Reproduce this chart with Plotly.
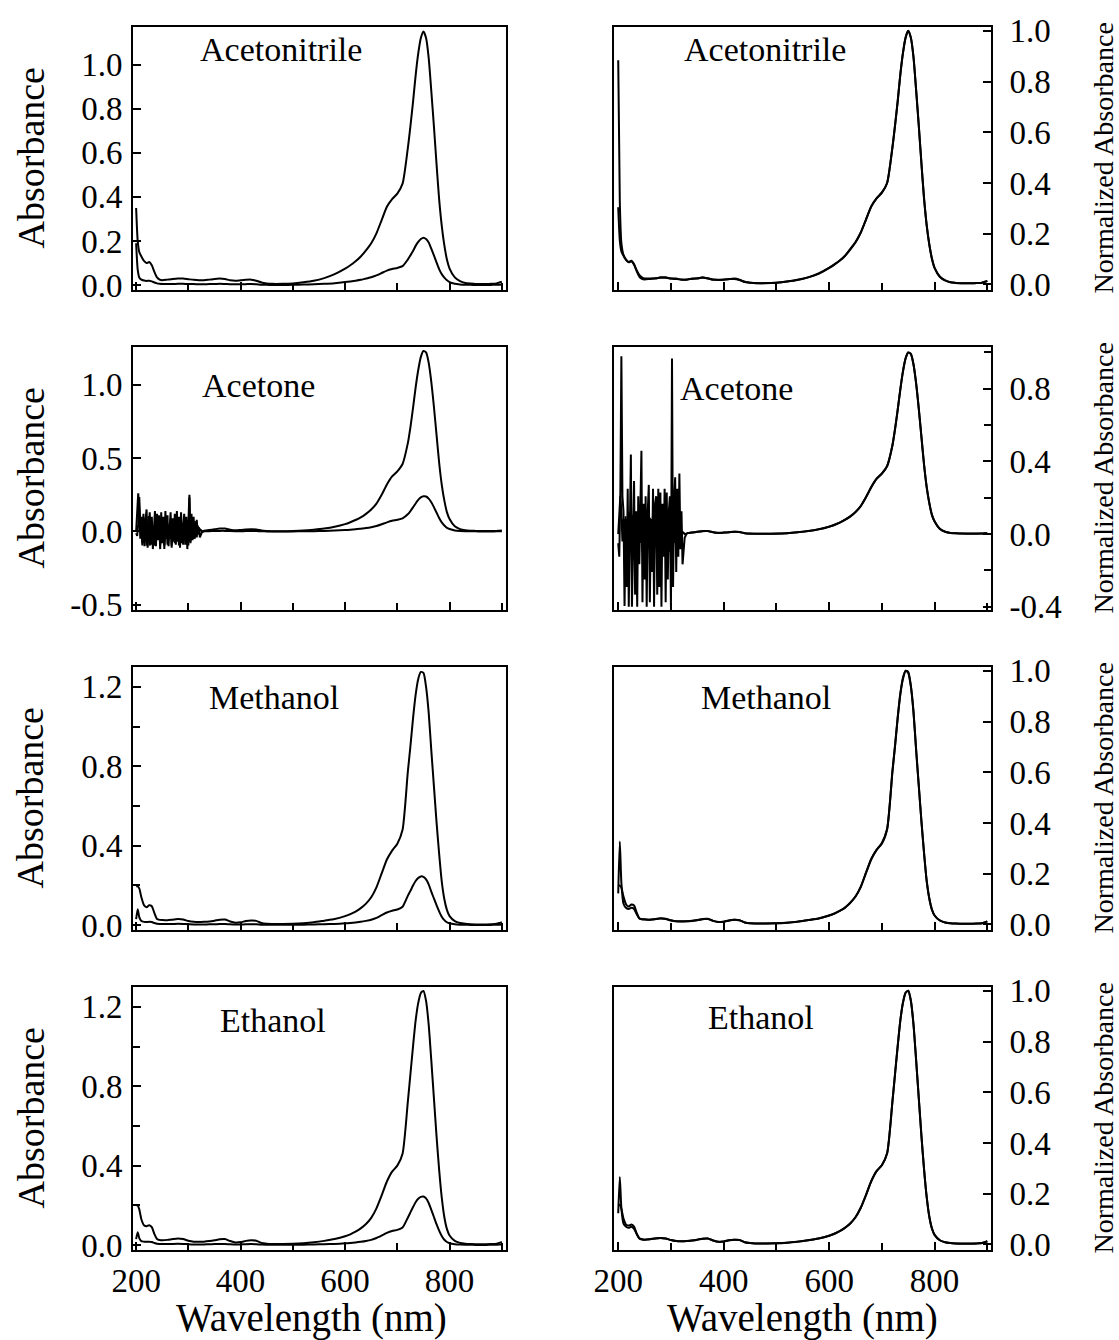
import plotly.graph_objects as go

W, H = 1119, 1340
FONT = "Liberation Serif, Times New Roman, serif"

# ---------------- data ----------------
WL = [200, 203, 206, 210, 215, 220, 225, 230, 235, 240,
      245, 250, 260, 270, 280, 290, 300, 310, 320, 330,
      340, 350, 360, 370, 380, 390, 400, 410, 420, 430,
      440, 450, 460, 480, 500, 520, 540, 560, 580, 600,
      610, 620, 630, 640, 650, 660, 670, 680, 690, 700,
      710, 720, 725, 730, 735, 740, 745, 750, 755, 760,
      765, 770, 775, 780, 785, 790, 795, 800, 810, 820,
      830, 840, 850, 860, 870, 880, 890, 895, 900]

ACN_HI = [0.35, 0.2, 0.15, 0.13, 0.11, 0.1, 0.105, 0.09, 0.06, 0.035,
          0.025, 0.022, 0.025, 0.028, 0.03, 0.03, 0.027, 0.024, 0.022, 0.022,
          0.025, 0.028, 0.03, 0.028, 0.022, 0.02, 0.022, 0.024, 0.025, 0.02,
          0.012, 0.008, 0.006, 0.006, 0.008, 0.013, 0.02, 0.032, 0.05, 0.075,
          0.09, 0.108, 0.13, 0.158, 0.19, 0.235, 0.295, 0.355, 0.39, 0.415,
          0.46, 0.62, 0.72, 0.83, 0.95, 1.05, 1.12, 1.15, 1.12, 1.03,
          0.88, 0.72, 0.55, 0.39, 0.27, 0.18, 0.115, 0.075, 0.035, 0.018,
          0.01, 0.007, 0.005, 0.005, 0.005, 0.006, 0.008, 0.012, 0.015]
ACN_LO = [0.19, 0.07, 0.035, 0.025, 0.021, 0.019, 0.02, 0.017, 0.012, 0.008,
          0.006, 0.005, 0.005, 0.005, 0.006, 0.006, 0.005, 0.005, 0.004, 0.004,
          0.005, 0.005, 0.006, 0.005, 0.004, 0.004, 0.004, 0.0045, 0.005, 0.004,
          0.002, 0.0015, 0.001, 0.001, 0.0015, 0.0025, 0.004, 0.006, 0.009, 0.014,
          0.017, 0.02, 0.024, 0.03, 0.036, 0.044, 0.055, 0.066, 0.073, 0.078,
          0.086, 0.116, 0.135, 0.155, 0.178, 0.196, 0.209, 0.215, 0.209, 0.193,
          0.165, 0.135, 0.103, 0.073, 0.05, 0.034, 0.022, 0.014, 0.0065, 0.0034,
          0.0019, 0.0013, 0.001, 0.001, 0.001, 0.0012, 0.0015, 0.0022, 0.003]

# acetone: noisy UV part (2 nm steps, 200-326 nm) + smooth part on WL from 330 nm
ACE_UV_WL = list(range(200, 328, 2))
ACE_HI_UV = [0.0, 0.12, 0.26, 0.15, -0.05, 0.1, -0.08, 0.12,
             -0.1, 0.08, 0.15, -0.11, 0.05, 0.13, -0.09, 0.1,
             -0.12, 0.06, 0.14, -0.1, 0.12, -0.06, 0.08, -0.12,
             0.13, -0.08, 0.1, -0.12, 0.14, -0.05, 0.11, -0.1,
             0.06, 0.13, -0.11, 0.09, -0.07, 0.12, -0.09, 0.14,
             -0.06, 0.1, -0.11, 0.13, -0.08, 0.07, 0.12, -0.09,
             0.1, -0.12, 0.08, 0.25, -0.08, 0.12, -0.06, 0.1,
             -0.05, 0.07, -0.04, 0.04, -0.02, 0.015, 0.01, 0.0]
ACE_LO_UV = [-0.012, -0.03, 0.05, 0.235, 0.05, 0.03, -0.095, 0.02,
             -0.07, 0.06, -0.096, 0.04, 0.105, -0.096, -0.02, 0.07,
             -0.08, 0.03, -0.096, 0.05, -0.04, 0.02, 0.11, -0.09,
             0.04, -0.06, 0.05, -0.096, 0.03, 0.065, -0.09, 0.02,
             -0.05, 0.06, -0.096, 0.04, 0.05, -0.08, 0.06, -0.07,
             0.055, -0.096, 0.04, -0.03, 0.06, -0.09, 0.055, -0.06,
             0.03, 0.05, -0.096, 0.232, -0.07, 0.04, 0.075, -0.05,
             0.06, -0.03, 0.08, -0.02, 0.03, -0.04, -0.015, -0.005]
ACE_VIS_WL = WL[19:]
ACE_HI_VIS = [0.005, 0.01, 0.015, 0.02, 0.02, 0.012, 0.008, 0.01, 0.013, 0.015,
              0.014, 0.006, 0.003, 0.002, 0.002, 0.003, 0.006, 0.012, 0.02, 0.032,
              0.05, 0.063, 0.078, 0.096, 0.12, 0.15, 0.19, 0.25, 0.32, 0.375,
              0.41, 0.46, 0.6, 0.71, 0.84, 0.98, 1.1, 1.19, 1.23, 1.22,
              1.15, 1.02, 0.85, 0.66, 0.47, 0.32, 0.21, 0.13, 0.085, 0.035,
              0.016, 0.008, 0.005, 0.004, 0.003, 0.003, 0.003, 0.004, 0.005, 0.006]
ACE_LO_VIS = [0.001, 0.002, 0.003, 0.004, 0.004, 0.0025, 0.0016, 0.002, 0.0025, 0.003,
              0.0027, 0.0012, 0.0006, 0.0004, 0.0004, 0.0006, 0.0012, 0.0023, 0.004, 0.0062,
              0.0098, 0.012, 0.015, 0.019, 0.023, 0.029, 0.037, 0.049, 0.062, 0.073,
              0.08, 0.09, 0.117, 0.139, 0.164, 0.191, 0.215, 0.232, 0.24, 0.238,
              0.224, 0.199, 0.166, 0.129, 0.092, 0.062, 0.041, 0.025, 0.017, 0.007,
              0.003, 0.0016, 0.001, 0.0008, 0.0006, 0.0006, 0.0006, 0.0008, 0.001, 0.0012]

MEOH_HI = [0.195, 0.195, 0.185, 0.14, 0.1, 0.09, 0.1, 0.095, 0.06, 0.03,
           0.026, 0.025, 0.024, 0.027, 0.03, 0.028, 0.02, 0.016, 0.015, 0.016,
           0.018, 0.022, 0.027, 0.028, 0.018, 0.012, 0.014, 0.02, 0.023, 0.021,
           0.01, 0.006, 0.005, 0.005, 0.006, 0.009, 0.014, 0.022, 0.03, 0.045,
           0.055, 0.068, 0.085, 0.108, 0.14, 0.19, 0.26, 0.33, 0.375, 0.41,
           0.48, 0.77, 0.9, 1.04, 1.16, 1.24, 1.275, 1.27, 1.2, 1.07,
           0.88, 0.7, 0.52, 0.36, 0.22, 0.13, 0.075, 0.045, 0.02, 0.01,
           0.006, 0.004, 0.003, 0.003, 0.003, 0.004, 0.006, 0.01, 0.015]
MEOH_LO = [0.03, 0.08, 0.04, 0.02, 0.016, 0.015, 0.016, 0.015, 0.01, 0.006,
           0.005, 0.005, 0.0046, 0.005, 0.006, 0.0053, 0.004, 0.003, 0.003, 0.003,
           0.0034, 0.004, 0.005, 0.0053, 0.0034, 0.0023, 0.0027, 0.0038, 0.0044, 0.004,
           0.0019, 0.0011, 0.001, 0.001, 0.0011, 0.0017, 0.0027, 0.0042, 0.0057, 0.0086,
           0.0105, 0.013, 0.016, 0.021, 0.027, 0.036, 0.05, 0.063, 0.072, 0.078,
           0.092, 0.147, 0.172, 0.199, 0.222, 0.237, 0.245, 0.243, 0.23, 0.205,
           0.168, 0.134, 0.1, 0.069, 0.042, 0.025, 0.014, 0.0086, 0.0038, 0.0019,
           0.0011, 0.0008, 0.0006, 0.0006, 0.0006, 0.0008, 0.0011, 0.0019, 0.0029]

ETOH_HI = [0.2, 0.2, 0.18, 0.13, 0.1, 0.095, 0.1, 0.09, 0.055, 0.03,
           0.025, 0.024, 0.026, 0.03, 0.033, 0.03, 0.022, 0.017, 0.016, 0.017,
           0.02, 0.024, 0.029, 0.03, 0.02, 0.013, 0.015, 0.021, 0.024, 0.022,
           0.011, 0.007, 0.005, 0.005, 0.006, 0.009, 0.014, 0.021, 0.03, 0.044,
           0.054, 0.067, 0.084, 0.106, 0.137, 0.185, 0.25, 0.32, 0.37, 0.4,
           0.46, 0.72, 0.86, 1.0, 1.13, 1.22, 1.27, 1.28, 1.23, 1.11,
           0.93, 0.74, 0.55, 0.38, 0.24, 0.14, 0.08, 0.048, 0.021, 0.011,
           0.007, 0.005, 0.004, 0.004, 0.004, 0.005, 0.007, 0.011, 0.016]
ETOH_LO = [0.03, 0.065, 0.035, 0.02, 0.017, 0.016, 0.017, 0.015, 0.01, 0.006,
           0.005, 0.0046, 0.005, 0.0057, 0.0063, 0.0057, 0.0042, 0.0032, 0.003, 0.0032,
           0.0038, 0.0046, 0.0055, 0.0057, 0.0038, 0.0025, 0.0029, 0.004, 0.0046, 0.0042,
           0.0021, 0.0013, 0.001, 0.001, 0.0011, 0.0017, 0.0027, 0.004, 0.0057, 0.0084,
           0.0103, 0.0128, 0.016, 0.0202, 0.0262, 0.0353, 0.0478, 0.061, 0.0707, 0.0764,
           0.0879, 0.1375, 0.1643, 0.191, 0.2158, 0.233, 0.2426, 0.2445, 0.235, 0.212,
           0.1776, 0.1413, 0.105, 0.0726, 0.0458, 0.0267, 0.0153, 0.0092, 0.004, 0.0021,
           0.0013, 0.001, 0.0008, 0.0008, 0.0008, 0.001, 0.0013, 0.0021, 0.0031]

SOLVENTS = ["Acetonitrile", "Acetone", "Methanol", "Ethanol"]
X_TICKS = [200, 400, 600, 800]
X_TICK_LABELS = ["200", "400", "600", "800"]
X_MINOR = [300, 500, 700, 900]

Y_TICKS_LEFT = [[0.0, 0.2, 0.4, 0.6, 0.8, 1.0], [-0.5, 0.0, 0.5, 1.0],
                [0.0, 0.4, 0.8, 1.2], [0.0, 0.4, 0.8, 1.2]]
Y_LABELS_LEFT = [["0.0", "0.2", "0.4", "0.6", "0.8", "1.0"], ["-0.5", "0.0", "0.5", "1.0"],
                 ["0.0", "0.4", "0.8", "1.2"], ["0.0", "0.4", "0.8", "1.2"]]
Y_MINOR_LEFT = [[], [], [0.2, 0.6, 1.0], [0.2, 0.6, 1.0]]
Y_TICKS_RIGHT = [[0.0, 0.2, 0.4, 0.6, 0.8, 1.0], [-0.4, 0.0, 0.4, 0.8],
                 [0.0, 0.2, 0.4, 0.6, 0.8, 1.0], [0.0, 0.2, 0.4, 0.6, 0.8, 1.0]]
Y_LABELS_RIGHT = [["0.0", "0.2", "0.4", "0.6", "0.8", "1.0"], ["-0.4", "0.0", "0.4", "0.8"],
                  ["0.0", "0.2", "0.4", "0.6", "0.8", "1.0"], ["0.0", "0.2", "0.4", "0.6", "0.8", "1.0"]]
Y_MINOR_RIGHT = [[], [-0.2, 0.2, 0.6, 1.0], [], []]

# ---------------- layout geometry (pixels) ----------------
COLS = [(133, 506), (614, 991)]
ROWS = [(27 + 320 * i, 290 + 320 * i) for i in range(4)]
X_RANGES = [[194, 908], [192, 907]]
Y_RANGES_LEFT = [[-0.022, 1.17], [-0.535, 1.257], [-0.025, 1.30], [-0.025, 1.30]]
Y_RANGES_RIGHT = [[-0.022, 1.015], [-0.418, 1.03], [-0.022, 1.015], [-0.022, 1.015]]


def fx(p):
    return p / W


def fy(p):
    return 1 - p / H


def norm(v):
    m = max(v)
    return [a / m for a in v]


fig = go.Figure()
LINE = dict(color="black", width=2)

series_left = []
series_right = []
for hi, lo in [(ACN_HI, ACN_LO), (None, None), (MEOH_HI, MEOH_LO), (ETOH_HI, ETOH_LO)]:
    if hi is None:
        mh = max(ACE_HI_UV + ACE_HI_VIS)
        ml = max(ACE_LO_UV + ACE_LO_VIS)
        uvx = ACE_UV_WL + [ACE_VIS_WL[0]]
        series_left.append([(uvx, ACE_HI_UV + [ACE_HI_VIS[0]], "linear"),
                            (ACE_VIS_WL, ACE_HI_VIS, "spline"),
                            (uvx, ACE_LO_UV + [ACE_LO_VIS[0]], "linear"),
                            (ACE_VIS_WL, ACE_LO_VIS, "spline")])
        series_right.append([(uvx, [a / mh for a in ACE_HI_UV + [ACE_HI_VIS[0]]], "linear"),
                             (ACE_VIS_WL, [a / mh for a in ACE_HI_VIS], "spline"),
                             (uvx, [a / ml for a in ACE_LO_UV + [ACE_LO_VIS[0]]], "linear"),
                             (ACE_VIS_WL, [a / ml for a in ACE_LO_VIS], "spline")])
    else:
        series_left.append([(WL, hi, "spline"), (WL, lo, "spline")])
        series_right.append([(WL, norm(hi), "spline"), (WL, norm(lo), "spline")])

annotations = []
for r in range(4):
    top, bot = ROWS[r]
    for c in range(2):
        n = 2 * r + c + 1
        sfx = "" if n == 1 else str(n)
        left, right = COLS[c]
        data = series_left[r] if c == 0 else series_right[r]
        for xs, ys, shp in data:
            fig.add_trace(go.Scatter(x=xs, y=ys, mode="lines", line=dict(shape=shp, smoothing=0.6, **LINE),
                                     xaxis="x" + sfx, yaxis="y" + sfx, showlegend=False,
                                     hoverinfo="skip"))
        xa = dict(domain=[fx(left), fx(right)], range=X_RANGES[c], anchor="y" + sfx,
                  automargin=False,
                  tickmode="array", tickvals=X_TICKS, ticktext=X_TICK_LABELS,
                  showticklabels=(r == 3), ticks="inside", ticklen=8, tickwidth=2, tickcolor="black",
                  minor=dict(tickvals=X_MINOR, ticks="inside", ticklen=7, tickwidth=2, tickcolor="black"),
                  showline=True, mirror=True, linecolor="black", linewidth=2,
                  showgrid=False, zeroline=False,
                  tickfont=dict(family=FONT, size=33, color="black"))
        if c == 0:
            tv, tt, mn, yr, side = Y_TICKS_LEFT[r], Y_LABELS_LEFT[r], Y_MINOR_LEFT[r], Y_RANGES_LEFT[r], "left"
            standoff = 2
        else:
            tv, tt, mn, yr, side = Y_TICKS_RIGHT[r], Y_LABELS_RIGHT[r], Y_MINOR_RIGHT[r], Y_RANGES_RIGHT[r], "right"
            standoff = 10
        ya = dict(domain=[fy(bot), fy(top)], range=yr, anchor="x" + sfx, side=side,
                  automargin=False, ticklabelstandoff=standoff,
                  tickmode="array", tickvals=tv, ticktext=tt,
                  ticks="inside", ticklen=8, tickwidth=2, tickcolor="black",
                  showline=True, mirror=True, linecolor="black", linewidth=2,
                  showgrid=False, zeroline=False,
                  tickfont=dict(family=FONT, size=33, color="black"))
        if mn:
            ya["minor"] = dict(tickvals=mn, ticks="inside", ticklen=7, tickwidth=2, tickcolor="black")
        fig.update_layout(**{"xaxis" + sfx: xa, "yaxis" + sfx: ya})

LABEL_POS = [[(281, 50), (765, 50)], [(258, 385), (736, 388)],
             [(274, 697), (766, 697)], [(273, 1020), (761, 1017)]]
for r in range(4):
    for c in range(2):
        px, py = LABEL_POS[r][c]
        annotations.append(dict(x=fx(px), y=fy(py), xref="paper", yref="paper", text=SOLVENTS[r],
                                showarrow=False, xanchor="center", yanchor="middle",
                                font=dict(family=FONT, size=34, color="black")))
    mid = (ROWS[r][0] + ROWS[r][1]) / 2
    annotations.append(dict(x=fx(30), y=fy(mid), xref="paper", yref="paper", text="Absorbance",
                            textangle=-90, showarrow=False, xanchor="center", yanchor="middle",
                            font=dict(family=FONT, size=38, color="black")))
    annotations.append(dict(x=fx(1103), y=fy(mid), xref="paper", yref="paper", text="Normalized Absorbance",
                            textangle=-90, showarrow=False, xanchor="center", yanchor="middle",
                            font=dict(family=FONT, size=28, color="black")))
for cx in (311, 802):
    annotations.append(dict(x=fx(cx), y=fy(1318), xref="paper", yref="paper", text="Wavelength (nm)",
                            showarrow=False, xanchor="center", yanchor="middle",
                            font=dict(family=FONT, size=39, color="black")))

fig.update_layout(width=W, height=H, margin=dict(l=0, r=0, t=0, b=0, autoexpand=False),
                  template="none",
                  paper_bgcolor="white", plot_bgcolor="white", showlegend=False,
                  annotations=annotations)

fig.write_html("out.html", config={"displayModeBar": False, "responsive": False},
               post_script="document.body.style.margin='0px';document.body.style.overflow='hidden';")
